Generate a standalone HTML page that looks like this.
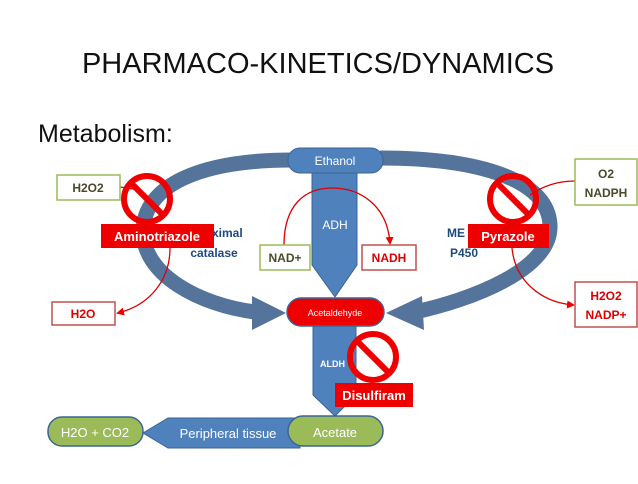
<!DOCTYPE html>
<html><head><style>
body{margin:0;width:638px;height:479px;background:#fff;overflow:hidden;font-family:"Liberation Sans",sans-serif}
</style></head><body>
<svg width="638" height="479" viewBox="0 0 638 479" xmlns="http://www.w3.org/2000/svg" font-family="Liberation Sans, sans-serif">
<defs>
<marker id="ar" markerWidth="8" markerHeight="8" refX="6" refY="4" orient="auto" markerUnits="userSpaceOnUse"><path d="M0,0 L8,4 L0,8 z" fill="#e00"/></marker>
</defs>
<text x="318" y="73" font-size="29" text-anchor="middle" fill="#111">PHARMACO-KINETICS/DYNAMICS</text>
<text x="38" y="142" font-size="25" fill="#111">Metabolism:</text>

<!-- big arcs -->
<path d="M292,160 C200,160 145,185 143,230 C142,275 200,305 255,312" fill="none" stroke="#54749c" stroke-width="15"/>
<polygon points="252,296 286,313 252,330" fill="#54749c"/>
<path d="M380,158 C480,158 548,180 550,225 C552,270 470,300 415,312" fill="none" stroke="#54749c" stroke-width="15"/>
<polygon points="422,296 386,313 424,330" fill="#54749c"/>

<!-- vertical arrows -->
<polygon points="312,170 357,170 357,265 335,297 312,265" fill="#4f81bd" stroke="#3b6595"/>
<text x="335" y="229" font-size="12" fill="#fff" text-anchor="middle">ADH</text>
<polygon points="313,324 356,324 356,395 335,416 313,395" fill="#4f81bd" stroke="#3b6595"/>
<text x="320" y="367" font-size="9" fill="#fff" font-weight="bold">ALDH</text>

<!-- peripheral -->
<polygon points="300,418 168,418 143,433 168,448 300,448" fill="#4f81bd" stroke="#3b6595"/>
<text x="228" y="438" font-size="13" fill="#fff" text-anchor="middle">Peripheral tissue</text>
<rect x="48" y="417" width="95" height="29" rx="14" fill="#9bbb59" stroke="#3b6595" stroke-width="1.5"/>
<text x="95" y="437" font-size="13" fill="#fff" text-anchor="middle">H2O + CO2</text>
<rect x="288" y="416" width="95" height="30" rx="15" fill="#9bbb59" stroke="#3b6595" stroke-width="1.5"/>
<text x="335" y="437" font-size="13" fill="#fff" text-anchor="middle">Acetate</text>

<rect x="288" y="148" width="95" height="25" rx="12" fill="#4f81bd" stroke="#3b6595"/>
<text x="335" y="165" font-size="12" fill="#fff" text-anchor="middle">Ethanol</text>
<rect x="287" y="298" width="97" height="28" rx="14" fill="#e00" stroke="#3b6595" stroke-width="1.5"/>
<text x="335" y="316" font-size="9" fill="#fff" text-anchor="middle">Acetaldehyde</text>

<!-- thin arrows -->
<path d="M284,245 C284,205 305,188 332,188 C360,188 387,205 390,243" fill="none" stroke="#d00" stroke-width="1.3" marker-end="url(#ar)"/>
<path d="M120,187 L140,190" stroke="#d00" stroke-width="1.3"/>
<path d="M170,248 C170,280 150,305 118,313" fill="none" stroke="#d00" stroke-width="1.3" marker-end="url(#ar)"/>
<path d="M575,181 C555,181 540,188 530,195" fill="none" stroke="#d00" stroke-width="1.3"/>
<path d="M512,248 C515,280 540,302 573,305" fill="none" stroke="#d00" stroke-width="1.3" marker-end="url(#ar)"/>

<!-- boxes -->
<g font-size="12" font-weight="bold" text-anchor="middle">
<rect x="57" y="175" width="63" height="25" fill="#fff" stroke="#9bbb59" stroke-width="1.5"/>
<text x="88" y="192" fill="#4a4a2a">H2O2</text>
<rect x="52" y="302" width="63" height="23" fill="#fff" stroke="#c0504d" stroke-width="1.5"/>
<text x="83" y="318" fill="#d00">H2O</text>
<rect x="260" y="245" width="50" height="25" fill="#fff" stroke="#9bbb59" stroke-width="1.5"/>
<text x="285" y="262" fill="#4a4a2a">NAD+</text>
<rect x="362" y="245" width="54" height="25" fill="#fff" stroke="#c0504d" stroke-width="1.5"/>
<text x="389" y="262" fill="#d00">NADH</text>
<rect x="575" y="159" width="62" height="46" fill="#fff" stroke="#9bbb59" stroke-width="1.5"/>
<text x="606" y="178" fill="#4a4a2a">O2</text>
<text x="606" y="197" fill="#4a4a2a">NADPH</text>
<rect x="575" y="282" width="62" height="45" fill="#fff" stroke="#c0504d" stroke-width="1.5"/>
<text x="606" y="300" fill="#d00">H2O2</text>
<text x="606" y="319" fill="#d00">NADP+</text>
<text x="212" y="237" fill="#1f497d" text-anchor="start">ximal</text>
<text x="214" y="257" fill="#1f497d">catalase</text>
<text x="447" y="237" fill="#1f497d" text-anchor="start">ME</text>
<text x="450" y="257" fill="#1f497d" text-anchor="start">P450</text>
</g>

<!-- prohibition signs -->
<g fill="none" stroke="#e00" stroke-width="6">
<circle cx="147" cy="199" r="23"/><line x1="131" y1="183" x2="163" y2="215"/>
<circle cx="513" cy="199" r="23"/><line x1="497" y1="183" x2="529" y2="215"/>
<circle cx="373" cy="357" r="23"/><line x1="357" y1="341" x2="389" y2="373"/>
</g>
<g font-size="13" font-weight="bold" fill="#fff" text-anchor="middle">
<rect x="101" y="224" width="113" height="24" fill="#e00"/><text x="157" y="241">Aminotriazole</text>
<rect x="468" y="224" width="81" height="24" fill="#e00"/><text x="508" y="241">Pyrazole</text>
<rect x="335" y="383" width="78" height="24" fill="#e00"/><text x="374" y="400">Disulfiram</text>
</g>
</svg>
</body></html>
